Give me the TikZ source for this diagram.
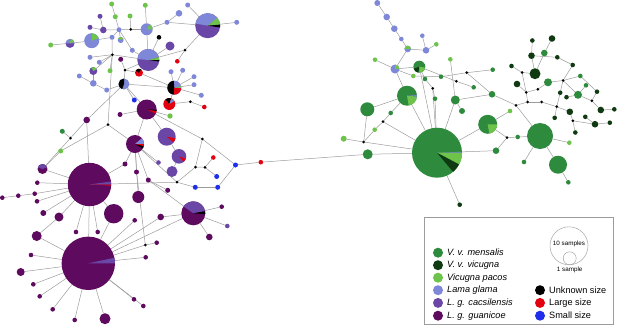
\documentclass[tikz,border=0pt]{standalone}
\usepackage{fontspec}
\setmainfont{Liberation Sans}
\usepackage{xcolor}
\usepackage{tikz}
\definecolor{mens}{HTML}{2E8B3E}
\definecolor{vic}{HTML}{0F3A12}
\definecolor{pac}{HTML}{6EC34B}
\definecolor{lam}{HTML}{7E87D8}
\definecolor{cac}{HTML}{6A47A6}
\definecolor{gua}{HTML}{5E0A5F}
\definecolor{unk}{HTML}{000000}
\definecolor{lrg}{HTML}{E3000F}
\definecolor{sml}{HTML}{1F2EEA}
\definecolor{linkgray}{HTML}{9C9C9C}
\pgfdeclarelayer{bg}
\pgfsetlayers{bg,main}
\tikzset{hap/.style={circle,inner sep=0pt,outer sep=0pt,draw=none},
  link/.style={linkgray,line width=.5bp},
  legtext/.style={anchor=west,inner sep=2bp,font=\fontsize{9.2}{11}\selectfont},
  sizetext/.style={inner sep=0pt,font=\fontsize{6.3}{7}\selectfont}}

\begin{document}
\begin{tikzpicture}[x=1bp,y=-1bp]
  \useasboundingbox (0,0) rectangle (617,327);
  \foreach \n/\x/\y/\rad/\col in {
    t1/111.7/4/2.5/pac,t2/145.3/5.3/2.5/pac,t3/187.7/5/2.5/lam,t4/100/16.3/2.5/cac,
    t5/115.3/16.7/2.5/pac,t6/130/16/2.5/pac,t7/179/13.3/3.3/lam,t8/167/22.3/2.5/lam,
    p1/207.7/25.7/12.5/cac,t9/236.7/22.3/2.5/lam,t10/90/27.3/2.5/cac,t11/103.3/30/3.3/cac,
    t12/119/29.7/2.5/lam,k1/130.7/29.3/1.5/unk,p2/146.7/29.3/6/lam,t13/112/37.3/2.5/lam,
    p3/91.7/40.7/7.5/lam,p4/70/43.3/4.5/lam,t14/50.7/45/2.5/pac,p5/120.7/40/3/lam,
    k2/159/37.3/2.3/unk,t15/170/46/4.5/cac,t16/132.3/50.3/2.5/lam,p6/148.3/60/11/cac,
    k3/112.3/54.7/1.5/unk,k4/185/50/1.5/unk,t17/177.3/61.3/2.3/lrg,t18/90/57.3/2.5/lam,
    t19/99.3/62.3/2.5/lam,t20/120.7/59.3/2.5/gua,k5/125/70/1.5/unk,p7/139/72.7/4/lrg,
    p8/93.3/71/4/cac,t21/110/70.7/2.5/pac,t22/79.3/76/2.5/lam,t23/93.3/83.3/3.3/lam,
    t24/106.7/90/2.5/lam,p9/124/84/5.5/lam,t25/171/71.7/2.5/lam,t26/182.7/70.3/2.5/lam,
    t27/194/76.7/2.5/lam,p10/174.3/87.7/7/lam,t28/194/84.7/2.5/lam,t29/201.3/95.3/2.5/lam,
    t30/134.3/100/2.5/sml,p11/169.3/104/6/lrg,k6/190.3/101.7/1.5/unk,t31/204.3/107/2.3/lrg,
    p12/146.7/109.5/10/gua,
    g1/120/114.5/2.5/gua,g2/170/116/2.7/pac,g3/86.7/120/3.3/gua,k7/108/124.7/1.5/unk,
    p13/166.7/136.7/9/cac,g4/62.3/131.3/2.5/mens,k8/70.5/138/1.5/unk,p14/135/144/9/gua,
    k9/202.3/139/1.5/unk,g5/60.7/151/2.5/pac,p15/179/156.3/7.3/cac,g6/125/164/2.5/gua,
    g7/158.5/162.5/2.3/cac,g8/213.3/157.5/2.3/lrg,k10/195.5/167/1.5/unk,k11/205/167.3/1.5/unk,
    g9/235.5/165/2.5/sml,g10/260.8/162.2/2.3/lrg,g11/172/171.5/5.5/cac,g12/136.5/172/2.5/gua,
    g13/216.7/176.5/2.5/sml,g14/148.3/180/2.5/gua,k12/177/182.2/1.5/unk,p16/89.5/184.5/21.7/gua,
    p17/42.5/169/5/gua,g15/195.3/187.3/2.5/sml,g16/217.7/187.3/2.5/sml,g17/167.7/190.3/2.5/gua,
    g18/138.3/197/6/gua,g19/2.3/197.7/2.3/gua,g20/18.3/195.7/2.3/gua,g21/34.7/193.7/2.3/gua,
    g22/37/201.3/2.3/gua,g45/37.3/182.7/2.3/gua,g23/43.3/213/3/gua,g24/59/217/4.5/gua,
    g25/113.7/213.7/9.7/gua,g26/134.7/220.3/2.3/gua,g27/160.7/217/3.3/gua,p18/193.3/213.3/12/gua,
    g28/221.7/206.7/2.3/gua,g29/227.3/226/2.3/cac,g30/209.3/237/3.3/gua,g31/76/232/2.3/gua,
    g32/97.7/232/2.3/gua,g33/36.7/236/5/gua,k13/145.3/245/1.5/unk,g34/156.7/242.7/2.3/gua,
    g35/145.7/257.3/2.3/gua,p19/88.3/263.3/26.7/gua,g36/31/255/2.3/gua,g37/20.7/272/4/gua,
    g38/33.3/284.3/2.3/gua,g39/39.7/296.3/2.3/gua,g40/52.7/309.3/2.3/gua,g41/74.7/320/2.3/gua,
    g42/105/318.7/5.5/gua,g43/134/299.3/2.3/gua,g44/143.3/306/2.3/gua,
    r1/377.3/3/3/lam,r2/386.7/17/3.3/lam,r3/394.3/28.7/3.3/lam,r4/401.3/39/2.3/lam,
    r5/422.3/35.7/2.3/lam,r6/436.3/44.3/2.3/pac,q1/407.7/49/3.3/lam,r7/426/50.3/3.3/lam,
    r8/375/59.7/2.3/pac,r9/450.3/59.3/2.3/pac,q2/395/69/4.5/lam,q3/419.3/66.7/6/mens,
    rk1/466.7/72.7/1.5/unk,r10/492.7/69.7/2.3/mens,r11/413.3/76/2.3/pac,r12/425/79/2.3/mens,
    r13/441/76.7/2.3/mens,rk2/456.3/81.3/1.5/unk,rk3/432.7/88.3/1.5/unk,r14/473.7/87.3/2.3/mens,
    r15/492/94.3/3.3/mens,r16/435/98.7/2.3/mens,r17/455.3/100/4.5/mens,q4/407/95.7/10/mens,
    r18/462/111/3/mens,r19/367.3/109.3/7/mens,r20/390.7/113/2.3/mens,rk4/383/121.7/1.5/unk,
    r21/374.7/129.7/2.3/pac,r22/343.7/138.7/3/pac,rk5/363.7/142/1.5/unk,r23/367.7/154.3/5/mens,
    q5/437/152.7/25/mens,q6/487.7/124.3/9.5/mens,r24/510/111/2.3/pac,rk6/507/137.7/1.5/unk,
    r25/517.7/137/2.3/mens,r26/496/150.7/3.3/mens,r27/540/136/13/mens,r28/569.3/142.7/2.3/pac,
    r29/524/162/2.3/mens,r30/558/164.7/9/mens,r31/568.3/182.3/2.3/mens,r32/459.7/204.7/2.3/vic,
    rk7/516/105.3/1.5/unk,
    d1/532.3/40.5/2.3/vic,d2/552/38.5/3.3/vic,d3/531.5/55.7/3.3/vic,d4/544.3/53/3.3/mens,
    d5/557.3/57.3/2.3/vic,d6/511.5/66/2.3/vic,dk1/522/72.5/1.5/unk,d7/535/73.7/5.5/vic,
    d8/572.7/65/2.3/vic,d9/580.3/76/2.3/mens,d10/548/82.3/4/mens,d11/517/84/3.3/vic,
    dk2/563/80.5/1.5/unk,d12/586/85.3/2.3/mens,dk3/526.2/92.3/1.5/unk,dk4/537.8/89.3/1.5/unk,
    d13/560.2/92.7/2.3/vic,d14/597/91.7/2.3/vic,d15/578/94.8/4/mens,d16/566.5/97.2/2.3/vic,
    dk5/527.7/102/1.5/unk,dk6/541.7/102/1.5/unk,dk7/556.7/106.7/1.5/unk,dk8/591.8/100.8/1.5/unk,
    d17/569.8/111.8/3.3/vic,d18/600.8/110/3.3/vic,d19/614.3/109.3/2.3/vic,d20/554.7/117.8/2.3/vic,
    dk9/572.8/120.8/1.5/unk,d21/585.3/116.8/2.3/vic,d22/595/124.2/3.3/vic,d23/609.8/122.7/2.3/vic,
    d24/575.3/132.5/2.3/vic}
    \node[hap,fill=\col,minimum size=2*\rad*1bp] (\n) at (\x,\y) {};
  \foreach \n/\ang/\angb/\rad/\col in {
    p1/40/170/12.5/lam,p1/5/40/12.5/pac,p1/-8/5/12.5/unk,p2/0/60/6/pac,p3/20/90/7.5/pac,
    p4/180/360/4.5/cac,p4/20/80/4.5/pac,p5/30/150/3/pac,p6/15/175/11/lam,p6/0/15/11/pac,
    p6/-8/0/11/unk,p7/60/150/4/unk,p8/30/120/4/pac,p9/90/250/5.5/unk,p10/95/265/7/unk,
    p10/265/355/7/lrg,p10/0/15/7/pac,p11/70/130/6/unk,p11/30/70/6/lam,p12/-25/-8/10/lrg,
    p12/-8/-2/10/unk,p13/-40/-10/9/lrg,p14/0/40/9/lam,p14/-15/0/9/lrg,p14/-30/-15/9/unk,
    p15/-50/-20/7.3/lrg,p16/0/8/21.7/cac,p16/-3/0/21.7/lrg,p17/20/160/5/cac,
    p18/10/145/12/cac,p18/-4/10/12/unk,p19/0/12/26.7/cac,
    q1/0/180/3.3/pac,q2/0/90/4.5/pac,q3/200/260/6/vic,q3/270/350/6/pac,
    q4/-80/-5/10/pac,q4/-5/3/10/lam,q5/-28/0/25/pac,q5/-50/-28/25/vic,q5/0/2/25/lam,
    q6/-80/0/9.5/pac}
    \fill[fill=\col] (\n.center) -- ++(\ang:\rad*1bp) arc[start angle=\ang,end angle=\angb,radius=\rad*1bp] -- cycle;
  \begin{pgfonlayer}{bg}
  \foreach \na/\nb in {
    t1/t5,t5/t12,t6/k1,t12/k1,k1/p2,t2/p2,p2/t8,t8/t7,t8/p1,t3/p1,p1/t9,p1/k4,k4/p6,k4/t17,
    k2/p6,t15/p6,p2/p6,t16/p6,t12/t16,t12/t13,t13/p3,p3/p4,p4/t14,t12/p5,t4/t11,t10/t11,
    t11/t12,t13/k3,k3/t18,k3/t19,k3/p6,k3/t21,k3/p8,t20/k5,k5/p7,k5/p6,k5/p9,p8/t23,t22/t23,
    t23/t24,t24/p9,p9/p10,p7/p10,p10/t25,p10/t26,p10/t27,p10/t28,p10/t29,p10/p11,p11/k6,
    k6/t31,p9/t30,p9/p12,p12/g1,p9/g3,k3/k7,k7/p14,k7/g5,g4/k8,k8/g3,k8/p17,g5/p17,g3/p16,
    p12/p14,p12/g2,p12/p13,p13/p15,p14/g7,p14/g12,p14/g14,p14/g6,p14/g18,p12/k9,k9/k10,
    k9/g9,k10/k11,k11/g8,k11/g13,g9/g16,g16/g15,g15/k12,k12/k10,g14/g17,p14/k12,p15/g11,
    k12/p16,g9/g10,g10/r23,p16/p17,p16/g45,g19/g20,g20/g21,g21/p16,g22/p16,g23/p16,g24/p16,
    g33/g24,p16/g31,p16/g32,p16/g25,p16/p19,g6/p16,g12/k13,k13/g34,k13/p19,g35/p19,p19/g36,
    p19/g37,p19/g38,p19/g39,p19/g40,p19/g41,p19/g42,p19/g43,p19/g44,p19/g26,p19/g25,p19/g33,
    p19/g27,g27/p18,p19/p18,p18/g28,p18/g29,p18/g30,p18/g14,
    r1/r2,r2/r3,r3/r4,r4/q1,q1/r7,r5/r7,r6/r7,q1/q2,r8/q2,q2/q3,q2/r11,r11/r13,r13/rk1,
    rk1/r10,rk1/r15,q3/r12,r12/rk3,rk3/q5,q3/rk2,rk2/r14,r9/r17,r17/r15,r17/r18,r17/q5,
    q4/r19,q4/r20,q4/q5,q2/q4,r20/rk4,rk4/r21,r21/rk5,rk5/r22,rk5/r19,rk5/q5,rk4/q5,r23/q5,
    q5/q6,q5/r26,q5/r32,q3/q5,rk3/r16,r16/q5,q6/r24,q6/rk6,rk6/r25,r25/r27,r26/rk6,
    r27/r28,r27/r29,r27/r30,r30/r31,r15/rk7,rk7/r27,
    d1/d3,d2/d4,d3/d7,d4/d7,d3/d5,d5/d8,d8/dk2,d6/dk1,dk1/d7,dk1/dk3,d11/dk3,dk3/dk4,
    dk4/d10,d10/dk2,dk2/d9,dk2/d13,dk2/d15,d12/d15,d16/d15,rk7/dk5,dk5/dk3,dk5/dk6,
    dk6/dk7,dk7/d20,dk7/d17,dk7/d13,d17/dk9,dk9/d22,d22/d23,dk9/d24,dk8/d14,dk8/d18,
    d18/d19,d21/d22,d15/dk8,d14/d9}
    \draw[link] (\na) -- (\nb);
  \end{pgfonlayer}
  \draw[linkgray,line width=.6bp] (424,217) rectangle (613,324);
  \foreach \n/\y/\col/\txt in {l1/252.7/mens/V. v. mensalis,l2/265.2/vic/V. v. vicugna,
    l3/277.7/pac/Vicugna pacos,l4/290.2/lam/Lama glama,l5/302.9/cac/L. g. cacsilensis,
    l6/315.7/gua/L. g. guanicoe} {
    \node[hap,fill=\col,minimum size=10bp] (\n) at (438,\y) {};
    \node[legtext] (\n txt) at (445,\y) {\textit{\txt}};
  }
  \foreach \n/\y/\col/\txt in {u1/290.2/unk/Unknown size,u2/302.9/lrg/Large size,
    u3/315.7/sml/Small size} {
    \node[hap,fill=\col,minimum size=10bp] (\n) at (540,\y) {};
    \node[legtext] (\n txt) at (547,\y) {\txt};
  }
  \node[hap,draw=gray!70,line width=.5bp,minimum size=38bp] (big) at (569,245.8) {};
  \node[hap,draw=gray!70,line width=.5bp,minimum size=13bp] (small) at (569.7,258.3) {};
  \node[sizetext] (bigtxt) at (569,243.5) {10 samples};
  \node[sizetext] (smalltxt) at (569.7,269.5) {1 sample};
\end{tikzpicture}
\end{document}
